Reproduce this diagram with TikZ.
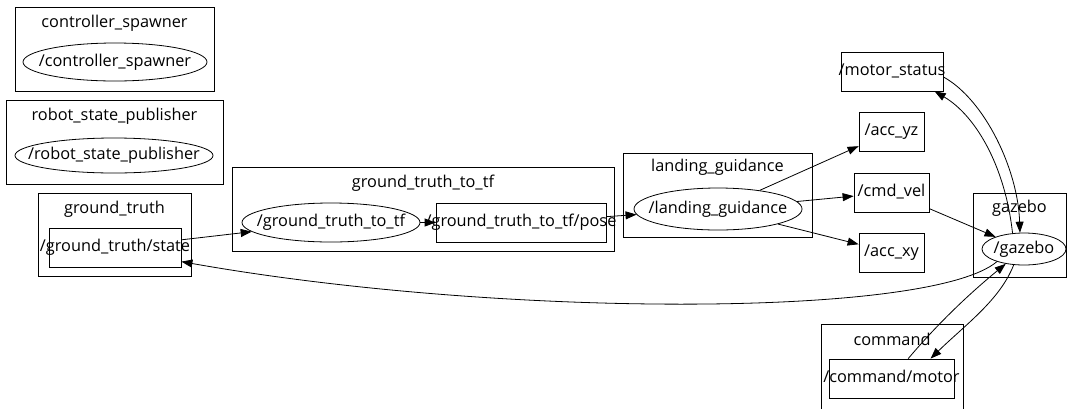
\documentclass[tikz,border=0pt]{standalone}
\usepackage{fontspec}
\setmainfont{Open Sans}
\usetikzlibrary{shapes.geometric,arrows.meta}

\tikzset{
  cluster/.style={draw, rectangle, inner sep=0pt},
  topic/.style={draw, rectangle, inner sep=0pt, minimum height=39pt},
  rosnode/.style={draw, ellipse, inner sep=0pt},
  title/.style={inner sep=0pt},
  edge/.style={-{Triangle[length=11pt,width=8pt]}},
}

\begin{document}
\begin{tikzpicture}[x=1pt, y=-1pt, line width=0.8pt,
    font=\fontsize{16.3pt}{18pt}\selectfont, text height=12pt, text depth=4pt]
        \useasboundingbox (0,0) rectangle (1067,408);
        % groups
        \node[cluster, minimum width=199pt, minimum height=84pt] (csCl) at (114.5,49) {};
        \node[title] (csTitle) at (114.5,23.5) {controller\_spawner};
        \node[cluster, minimum width=217pt, minimum height=84pt] (rspCl) at (114.5,142) {};
        \node[title] (rspTitle) at (114.5,116.5) {robot\_state\_publisher};
        \node[cluster, minimum width=153pt, minimum height=83pt] (gtCl) at (114.5,234.5) {};
        \node[title] (gtTitle) at (114.5,209.5) {ground\_truth};
        \node[cluster, minimum width=382pt, minimum height=84pt] (gttCl) at (423,209) {};
        \node[title] (gttTitle) at (423,183.5) {ground\_truth\_to\_tf};
        \node[cluster, minimum width=189pt, minimum height=84pt] (lgCl) at (717.5,195) {};
        \node[title] (lgTitle) at (717.5,167.5) {landing\_guidance};
        \node[cluster, minimum width=93pt, minimum height=84pt] (gzCl) at (1019.5,235) {};
        \node[title] (gzTitle) at (1019.5,208.5) {gazebo};
        \node[cluster, minimum width=142pt, minimum height=88pt] (cmCl) at (892,368) {};
        \node[title] (cmTitle) at (892,341.5) {command};

        % ros nodes
        \node[rosnode, minimum width=184pt, minimum height=38pt, label=center:{/controller\_spawner}] (cs) at (115,62) {};
        \node[rosnode, minimum width=198pt, minimum height=35pt, label=center:{/robot\_state\_publisher}] (rsp) at (114,155.5) {};
        \node[rosnode, minimum width=178pt, minimum height=39pt, label=center:{/ground\_truth\_to\_tf}] (gtf) at (331,222.5) {};
        \node[rosnode, minimum width=168pt, minimum height=42pt, label=center:{/landing\_guidance}] (lg) at (718,209) {};
        \node[rosnode, minimum width=84pt, minimum height=32pt, label=center:{/gazebo}] (gz) at (1024,249) {};

        % topics
        \node[topic, minimum width=132pt, label=center:{/ground\_truth/state}] (gts) at (115,247.5) {};
        \node[topic, minimum width=170pt, label=center:{/ground\_truth\_to\_tf/pose}] (pose) at (521,222.5) {};
        \node[topic, minimum width=102pt, label=center:{/motor\_status}] (ms) at (892,71.5) {};
        \node[topic, minimum width=65pt, label=center:{/acc\_yz}] (ay) at (891.5,131.5) {};
        \node[topic, minimum width=75pt, label=center:{/cmd\_vel}] (cv) at (891.5,192.5) {};
        \node[topic, minimum width=65pt, label=center:{/acc\_xy}] (ax) at (891.5,252.5) {};
        \node[topic, minimum width=125pt, label=center:{/command/motor}] (cm) at (891.5,378.5) {};

        % connections
        \draw[edge] (gts) -- (gtf);
        \draw[edge] (gtf) -- (pose);
        \draw[edge] (pose) -- (lg);
        \draw[edge] (lg) -- (ay);
        \draw[edge] (lg) -- (cv);
        \draw[edge] (lg) -- (ax);
        \draw[edge] (cv) -- (gz);
        \draw[edge] (ms.-6) .. controls (985,100) and (1018,170) .. (gz.104);
        \draw[edge] (gz.126) .. controls (1005,165) and (975,115) .. (ms.-25);
        \draw[edge] (gz.205) .. controls (930,318) and (500,318) .. (gts.-12);
        \draw[edge] (cm.50) .. controls (945,315) and (980,285) .. (gz.219);
        \draw[edge] (gz.237) .. controls (1000,300) and (965,325) .. (cm.27);
    \end{tikzpicture}
\end{document}
